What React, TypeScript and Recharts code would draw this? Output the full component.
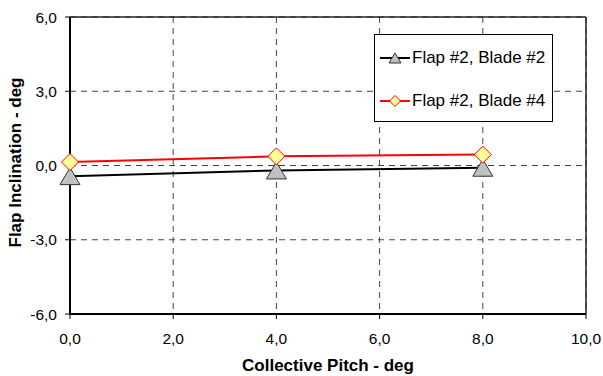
import React from 'react';
import {
  LineChart,
  Line,
  XAxis,
  YAxis,
  CartesianGrid,
  ReferenceLine,
} from 'recharts';

const PITCH = [0, 4, 8];
const BLADE2 = [-0.43, -0.2, -0.09];
const BLADE4 = [0.14, 0.37, 0.44];
const X_TICKS = [0, 2, 4, 6, 8, 10];
const Y_TICKS = [-6, -3, 0, 3, 6];
const SERIES_NAMES = ['Flap #2, Blade #2', 'Flap #2, Blade #4'];

const data = PITCH.map((p, i) => ({ pitch: p, b2: BLADE2[i], b4: BLADE4[i] }));

const FONT = '"Liberation Sans", Arial, sans-serif';
const fmt = (v: number) => v.toFixed(1).replace('.', ',');

const Triangle = ({ cx, cy, w = 20, h = 17 }: any) => {
  if (cx == null || cy == null) return null;
  return (
    <polygon
      points={`${cx},${cy - h / 2} ${cx + w / 2},${cy + h / 2} ${cx - w / 2},${cy + h / 2}`}
      fill="#c0c0c0"
      stroke="#333"
      strokeWidth={1}
    />
  );
};

const Diamond = ({ cx, cy, half = 8.5 }: any) => {
  if (cx == null || cy == null) return null;
  return (
    <polygon
      points={`${cx},${cy - half} ${cx + half},${cy} ${cx},${cy + half} ${cx - half},${cy}`}
      fill="#ffff99"
      stroke="#ff0000"
      strokeWidth={1}
    />
  );
};

// legend drawn as a plain box over the chart, like the Excel original
const LegendBox = () => (
  <div
    style={{
      position: 'absolute',
      left: 374,
      top: 34,
      width: 179,
      height: 88,
      border: '1px solid #000',
      background: '#fff',
      fontFamily: FONT,
      fontSize: 17,
      color: '#000',
      boxSizing: 'border-box',
      padding: '12px 0 0 5px',
    }}
  >
    {SERIES_NAMES.map((name, i) => (
      <div key={name} style={{ display: 'flex', alignItems: 'center', height: 22, marginBottom: i === 0 ? 21 : 0 }}>
        <svg width={30} height={16} style={{ marginRight: 2 }}>
          <line x1={0} y1={8} x2={30} y2={8} stroke={i === 0 ? '#000' : '#ff0000'} strokeWidth={2} />
          {i === 0 ? <Triangle cx={15} cy={8} w={12} h={10} /> : <Diamond cx={15} cy={8} half={5.5} />}
        </svg>
        <span>{name}</span>
      </div>
    ))}
  </div>
);

export default function App() {
  return (
    <div style={{ position: 'absolute', left: 0, top: 0, width: 603, height: 376, background: '#fff' }}>
      <LineChart width={603} height={376} data={data} margin={{ top: 17, right: 17, left: 0, bottom: 0 }}>
        <CartesianGrid stroke="#444" strokeDasharray="6 5" strokeWidth={1} />
        <XAxis
          dataKey="pitch"
          type="number"
          domain={[0, 10]}
          ticks={X_TICKS}
          tickFormatter={fmt}
          height={62}
          axisLine={{ stroke: '#000', strokeWidth: 2 }}
          tickLine={{ stroke: '#000' }}
          tickSize={5}
          tickMargin={14}
          tick={{ fill: '#000', fontSize: 15.5, fontFamily: FONT }}
          label={{
            content: ({ viewBox }: any) => (
              <text
                x={viewBox.x + viewBox.width / 2}
                y={viewBox.y + 57}
                textAnchor="middle"
                fontFamily={FONT}
                fontWeight="bold"
                fontSize={17}
                fill="#000"
              >
                Collective Pitch - deg
              </text>
            ),
          }}
        />
        <YAxis
          type="number"
          domain={[-6, 6]}
          ticks={Y_TICKS}
          tickFormatter={fmt}
          width={70}
          axisLine={{ stroke: '#000', strokeWidth: 2 }}
          tickLine={{ stroke: '#000' }}
          tickSize={5}
          tickMargin={8}
          tick={{ fill: '#000', fontSize: 15.5, fontFamily: FONT }}
          label={{
            content: ({ viewBox }: any) => {
              const x = viewBox.x + 21;
              const y = viewBox.y + viewBox.height / 2 - 3;
              return (
                <text
                  x={x}
                  y={y}
                  transform={`rotate(-90 ${x} ${y})`}
                  textAnchor="middle"
                  fontFamily={FONT}
                  fontWeight="bold"
                  fontSize={17}
                  fill="#000"
                >
                  Flap Inclination - deg
                </text>
              );
            },
          }}
        />
        <ReferenceLine y={6} stroke="#222" strokeWidth={1.5} />
        <ReferenceLine x={10} stroke="#222" strokeWidth={1.5} />
        <Line
          dataKey="b2"
          name={SERIES_NAMES[0]}
          stroke="#000"
          strokeWidth={2}
          dot={<Triangle />}
          isAnimationActive={false}
        />
        <Line
          dataKey="b4"
          name={SERIES_NAMES[1]}
          stroke="#ff0000"
          strokeWidth={2}
          dot={<Diamond />}
          isAnimationActive={false}
        />
      </LineChart>
      <LegendBox />
    </div>
  );
}
